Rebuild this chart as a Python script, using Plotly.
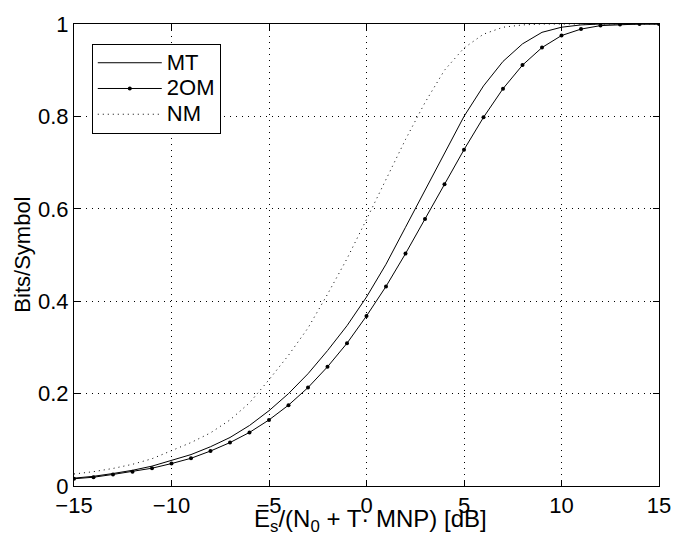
import plotly.graph_objects as go

x_db = list(range(-15, 16))

mt = [0.017, 0.021, 0.027, 0.034, 0.043, 0.055, 0.068, 0.085, 0.105, 0.131,
      0.163, 0.200, 0.243, 0.293, 0.347, 0.409, 0.480, 0.560, 0.640, 0.720,
      0.800, 0.866, 0.919, 0.957, 0.982, 0.993, 0.998, 1.0, 1.0, 1.0, 1.0]

two_om = [0.0157, 0.019, 0.025, 0.031, 0.0385, 0.0486, 0.060, 0.0757, 0.094, 0.116,
          0.143, 0.175, 0.213, 0.258, 0.309, 0.368, 0.432, 0.503, 0.578, 0.653,
          0.728, 0.798, 0.860, 0.911, 0.949, 0.975, 0.989, 0.9965, 0.999, 1.0, 1.0]

nm = [0.026, 0.031, 0.038, 0.047, 0.059, 0.077, 0.094, 0.115, 0.143, 0.180,
      0.230, 0.283, 0.342, 0.415, 0.492, 0.577, 0.665, 0.750, 0.830, 0.900,
      0.948, 0.978, 0.993, 0.998, 1.0, 1.0, 1.0, 1.0, 1.0, 1.0, 1.0]

series_names = ["MT", "2OM", "NM"]

x_ticks = [-15, -10, -5, 0, 5, 10, 15]
y_ticks = [0, 0.2, 0.4, 0.6, 0.8, 1]
y_tick_text = ["0", "0.2", "0.4", "0.6", "0.8", "1"]

FONT = "Liberation Sans, Arial, Helvetica, sans-serif"
FS = 22


def leg(name):
    return "<span style='font-size:%dpx'>%s</span>" % (FS, name)


fig = go.Figure()
fig.add_trace(go.Scatter(x=x_db, y=mt, name=leg(series_names[0]), mode="lines",
                         line=dict(color="black", width=1)))
fig.add_trace(go.Scatter(x=x_db, y=two_om, name=leg(series_names[1]), mode="lines+markers",
                         line=dict(color="black", width=1),
                         marker=dict(color="black", size=4, symbol="circle")))
fig.add_trace(go.Scatter(x=x_db, y=nm, name=leg(series_names[2]), mode="lines",
                         line=dict(color="black", width=1, dash="1px,4px")))

axis_common = dict(
    showline=True, linecolor="black", linewidth=1, mirror="ticks",
    ticks="inside", ticklen=6, tickcolor="black", tickwidth=1,
    showgrid=True, gridcolor="black", gridwidth=1, griddash="1px,5px",
    zeroline=False, tickfont=dict(family=FONT, size=FS, color="black"),
)

fig.update_xaxes(range=[-15, 15], tickvals=x_ticks, ticklabelstandoff=0, **axis_common)
fig.update_yaxes(range=[0, 1], tickvals=y_ticks, ticktext=y_tick_text,
                 ticklabelstandoff=0, **axis_common)

fig.add_annotation(text="E<sub>s</sub>/(N<sub>0</sub> + T· MNP) [dB]",
                   xref="paper", yref="paper", x=0.507, y=-0.036,
                   xanchor="center", yanchor="top", showarrow=False,
                   font=dict(family=FONT, size=24, color="black"))
fig.add_annotation(text="Bits/Symbol", textangle=-90,
                   xref="paper", yref="paper", x=-0.0895, y=0.5,
                   xanchor="center", yanchor="middle", showarrow=False,
                   font=dict(family=FONT, size=FS, color="black"))

fig.update_layout(
    width=683, height=547,
    margin=dict(l=74, r=17, t=19, b=61),
    paper_bgcolor="white", plot_bgcolor="white",
    font=dict(family=FONT, size=FS, color="black"),
    legend=dict(x=0.0304, y=0.957, xanchor="left", yanchor="top",
                bgcolor="white", bordercolor="black", borderwidth=1,
                font=dict(family=FONT, size=17.5, color="black"),
                itemwidth=64, tracegroupgap=0),
    showlegend=True,
)

fig.write_html("out.html")
